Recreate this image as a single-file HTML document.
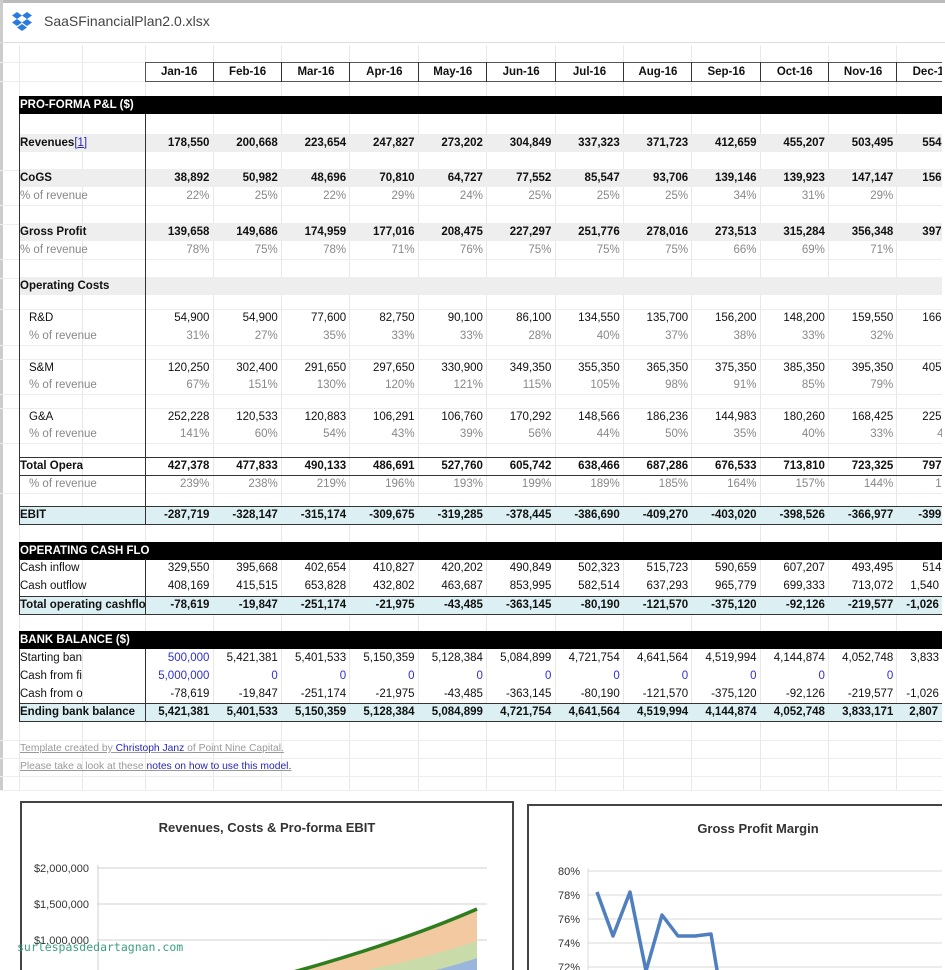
<!DOCTYPE html>
<html><head><meta charset="utf-8"><style>
*{margin:0;padding:0;box-sizing:border-box}
body{width:945px;height:970px;overflow:hidden;background:#fff;font-family:"Liberation Sans",Arial,sans-serif;position:relative;color:#111}
#clip{position:absolute;left:0;top:0;width:942px;height:970px;overflow:hidden}
.vl{position:absolute;top:45px;height:745px;width:1px;background:#e8e8e8}
.hl{position:absolute;left:0;width:945px;height:1px;background:#eeeeee}
.r{position:absolute;left:19px;width:1000px;height:18px;line-height:18px;display:flex;font-size:11.5px;white-space:nowrap}
.r .l{width:126px;overflow:hidden;padding-left:1px}
.r .c{width:68.4px;text-align:right;padding-right:4px;flex:none}
.r .c:last-child{text-align:left;padding-left:25px;padding-right:0}
.b{font-weight:bold}
.g{color:#888}
.ind .l{padding-left:10px}
.band{position:absolute;left:19px;width:926px;height:18px}
.bar{position:absolute;left:19px;width:926px;height:18px;background:#000;color:#fff;font-weight:bold;font-size:11.5px;line-height:18px;padding-left:1px}
.blk{position:absolute;background:#333}
.blue{color:#2f2fd0}
a{color:#2525c0}
</style></head><body>
<div style="position:absolute;left:0;top:0;width:945px;height:3px;background:#bbb"></div>
<div style="position:absolute;left:0;top:0;width:3px;height:970px;background:#ccc"></div>
<svg style="position:absolute;left:11px;top:12px" width="22" height="20" viewBox="0 0 22 20"><g fill="#2a7be0"><polygon points="6,0 11,3.5 6,7 1,3.5"/><polygon points="16,0 21,3.5 16,7 11,3.5"/><polygon points="6,7 11,10.5 6,14 1,10.5"/><polygon points="16,7 21,10.5 16,14 11,10.5"/><polygon points="11,12 16,15.5 11,19 6,15.5"/></g></svg>
<div style="position:absolute;left:44px;top:13px;font-size:14px;color:#444">SaaSFinancialPlan2.0.xlsx</div>
<div style="position:absolute;left:0;top:42px;width:945px;height:1px;background:#ddd"></div>
<div id="clip">
<div class="vl" style="left:19px"></div><div class="vl" style="left:82px"></div><div class="vl" style="left:145px"></div><div class="vl" style="left:213px"></div><div class="vl" style="left:281px"></div><div class="vl" style="left:349px"></div><div class="vl" style="left:418px"></div><div class="vl" style="left:486px"></div><div class="vl" style="left:555px"></div><div class="vl" style="left:623px"></div><div class="vl" style="left:691px"></div><div class="vl" style="left:760px"></div><div class="vl" style="left:828px"></div><div class="vl" style="left:896px"></div>
<div class="hl" style="top:62px"></div><div class="hl" style="top:81px"></div><div class="hl" style="top:170px"></div><div class="hl" style="top:205px"></div><div class="hl" style="top:224px"></div><div class="hl" style="top:259px"></div><div class="hl" style="top:278px"></div><div class="hl" style="top:309px"></div><div class="hl" style="top:345px"></div><div class="hl" style="top:359px"></div><div class="hl" style="top:394px"></div><div class="hl" style="top:408px"></div><div class="hl" style="top:443px"></div><div class="hl" style="top:493px"></div><div class="hl" style="top:740px"></div><div class="hl" style="top:758px"></div><div class="hl" style="top:776px"></div>

<div style="position:absolute;left:145px;top:62px;width:820px;height:20px;border:1px solid #555;background:#fff"></div>
<div class="r b" style="top:62px;height:20px;line-height:20px"><span class="l"></span>
<span class="c" style="text-align:center;padding:0">Jan-16</span><span class="c" style="text-align:center;padding:0">Feb-16</span><span class="c" style="text-align:center;padding:0">Mar-16</span><span class="c" style="text-align:center;padding:0">Apr-16</span><span class="c" style="text-align:center;padding:0">May-16</span><span class="c" style="text-align:center;padding:0">Jun-16</span><span class="c" style="text-align:center;padding:0">Jul-16</span><span class="c" style="text-align:center;padding:0">Aug-16</span><span class="c" style="text-align:center;padding:0">Sep-16</span><span class="c" style="text-align:center;padding:0">Oct-16</span><span class="c" style="text-align:center;padding:0">Nov-16</span><span class="c" style="text-align:center;padding:0">Dec-16</span></div>
<div class="blk" style="left:213px;top:62px;width:1px;height:20px"></div><div class="blk" style="left:281px;top:62px;width:1px;height:20px"></div><div class="blk" style="left:349px;top:62px;width:1px;height:20px"></div><div class="blk" style="left:418px;top:62px;width:1px;height:20px"></div><div class="blk" style="left:486px;top:62px;width:1px;height:20px"></div><div class="blk" style="left:555px;top:62px;width:1px;height:20px"></div><div class="blk" style="left:623px;top:62px;width:1px;height:20px"></div><div class="blk" style="left:691px;top:62px;width:1px;height:20px"></div><div class="blk" style="left:760px;top:62px;width:1px;height:20px"></div><div class="blk" style="left:828px;top:62px;width:1px;height:20px"></div><div class="blk" style="left:896px;top:62px;width:1px;height:20px"></div>

<div class="band" style="top:134px;background:#eeeeee"></div>
<div class="band" style="top:169px;background:#eeeeee"></div>
<div class="band" style="top:223px;background:#eeeeee"></div>
<div class="band" style="top:277px;background:#eeeeee"></div>
<div class="band" style="top:506px;background:#dcf0f4"></div>
<div class="band" style="top:596px;background:#dcf0f4"></div>
<div class="band" style="top:703px;background:#dcf0f4"></div>

<div class="bar" style="top:96px">PRO-FORMA P&amp;L ($)</div>
<div class="r b" style="top:134px"><span class="l">Revenues<a style="font-weight:normal;text-decoration:underline">[1]</a></span><span class="c">178,550</span><span class="c">200,668</span><span class="c">223,654</span><span class="c">247,827</span><span class="c">273,202</span><span class="c">304,849</span><span class="c">337,323</span><span class="c">371,723</span><span class="c">412,659</span><span class="c">455,207</span><span class="c">503,495</span><span class="c">554</span></div>
<div class="r b" style="top:169px"><span class="l">CoGS</span><span class="c">38,892</span><span class="c">50,982</span><span class="c">48,696</span><span class="c">70,810</span><span class="c">64,727</span><span class="c">77,552</span><span class="c">85,547</span><span class="c">93,706</span><span class="c">139,146</span><span class="c">139,923</span><span class="c">147,147</span><span class="c">156</span></div>
<div class="r g" style="top:187px"><span class="l">% of revenue</span><span class="c">22%</span><span class="c">25%</span><span class="c">22%</span><span class="c">29%</span><span class="c">24%</span><span class="c">25%</span><span class="c">25%</span><span class="c">25%</span><span class="c">34%</span><span class="c">31%</span><span class="c">29%</span><span class="c"></span></div>
<div class="r b" style="top:223px"><span class="l">Gross Profit</span><span class="c">139,658</span><span class="c">149,686</span><span class="c">174,959</span><span class="c">177,016</span><span class="c">208,475</span><span class="c">227,297</span><span class="c">251,776</span><span class="c">278,016</span><span class="c">273,513</span><span class="c">315,284</span><span class="c">356,348</span><span class="c">397</span></div>
<div class="r g" style="top:241px"><span class="l">% of revenue</span><span class="c">78%</span><span class="c">75%</span><span class="c">78%</span><span class="c">71%</span><span class="c">76%</span><span class="c">75%</span><span class="c">75%</span><span class="c">75%</span><span class="c">66%</span><span class="c">69%</span><span class="c">71%</span><span class="c"></span></div>
<div class="r b" style="top:277px"><span class="l">Operating Costs</span></div>
<div class="r ind" style="top:309px"><span class="l">R&amp;D</span><span class="c">54,900</span><span class="c">54,900</span><span class="c">77,600</span><span class="c">82,750</span><span class="c">90,100</span><span class="c">86,100</span><span class="c">134,550</span><span class="c">135,700</span><span class="c">156,200</span><span class="c">148,200</span><span class="c">159,550</span><span class="c">166</span></div>
<div class="r g ind" style="top:327px"><span class="l">% of revenue</span><span class="c">31%</span><span class="c">27%</span><span class="c">35%</span><span class="c">33%</span><span class="c">33%</span><span class="c">28%</span><span class="c">40%</span><span class="c">37%</span><span class="c">38%</span><span class="c">33%</span><span class="c">32%</span><span class="c"></span></div>
<div class="r ind" style="top:359px"><span class="l">S&amp;M</span><span class="c">120,250</span><span class="c">302,400</span><span class="c">291,650</span><span class="c">297,650</span><span class="c">330,900</span><span class="c">349,350</span><span class="c">355,350</span><span class="c">365,350</span><span class="c">375,350</span><span class="c">385,350</span><span class="c">395,350</span><span class="c">405</span></div>
<div class="r g ind" style="top:376px"><span class="l">% of revenue</span><span class="c">67%</span><span class="c">151%</span><span class="c">130%</span><span class="c">120%</span><span class="c">121%</span><span class="c">115%</span><span class="c">105%</span><span class="c">98%</span><span class="c">91%</span><span class="c">85%</span><span class="c">79%</span><span class="c"></span></div>
<div class="r ind" style="top:408px"><span class="l">G&amp;A</span><span class="c">252,228</span><span class="c">120,533</span><span class="c">120,883</span><span class="c">106,291</span><span class="c">106,760</span><span class="c">170,292</span><span class="c">148,566</span><span class="c">186,236</span><span class="c">144,983</span><span class="c">180,260</span><span class="c">168,425</span><span class="c">225</span></div>
<div class="r g ind" style="top:425px"><span class="l">% of revenue</span><span class="c">141%</span><span class="c">60%</span><span class="c">54%</span><span class="c">43%</span><span class="c">39%</span><span class="c">56%</span><span class="c">44%</span><span class="c">50%</span><span class="c">35%</span><span class="c">40%</span><span class="c">33%</span><span class="c" style="padding-left:40px">4</span></div>
<div class="r b" style="top:457px"><span class="l">Total Opera</span><span class="c">427,378</span><span class="c">477,833</span><span class="c">490,133</span><span class="c">486,691</span><span class="c">527,760</span><span class="c">605,742</span><span class="c">638,466</span><span class="c">687,286</span><span class="c">676,533</span><span class="c">713,810</span><span class="c">723,325</span><span class="c">797</span></div>
<div class="r g ind" style="top:475px"><span class="l">% of revenue</span><span class="c">239%</span><span class="c">238%</span><span class="c">219%</span><span class="c">196%</span><span class="c">193%</span><span class="c">199%</span><span class="c">189%</span><span class="c">185%</span><span class="c">164%</span><span class="c">157%</span><span class="c">144%</span><span class="c" style="padding-left:38px">1</span></div>
<div class="r b" style="top:506px"><span class="l">EBIT</span><span class="c">-287,719</span><span class="c">-328,147</span><span class="c">-315,174</span><span class="c">-309,675</span><span class="c">-319,285</span><span class="c">-378,445</span><span class="c">-386,690</span><span class="c">-409,270</span><span class="c">-403,020</span><span class="c">-398,526</span><span class="c">-366,977</span><span class="c" style="padding-left:21px">-399</span></div>
<div class="blk" style="left:19px;top:114px;width:1px;height:411px"></div>
<div class="blk" style="left:145px;top:114px;width:1px;height:411px"></div>
<div class="blk" style="left:19px;top:457px;width:926px;height:1px"></div>
<div class="blk" style="left:19px;top:475px;width:926px;height:1px"></div>
<div class="blk" style="left:19px;top:506px;width:926px;height:1px"></div>
<div class="blk" style="left:19px;top:524px;width:926px;height:1px"></div>

<div class="bar" style="top:542px">OPERATING CASH FLO</div>
<div class="r" style="top:559px"><span class="l">Cash inflow</span><span class="c">329,550</span><span class="c">395,668</span><span class="c">402,654</span><span class="c">410,827</span><span class="c">420,202</span><span class="c">490,849</span><span class="c">502,323</span><span class="c">515,723</span><span class="c">590,659</span><span class="c">607,207</span><span class="c">493,495</span><span class="c">514</span></div>
<div class="r" style="top:577px"><span class="l">Cash outflow</span><span class="c">408,169</span><span class="c">415,515</span><span class="c">653,828</span><span class="c">432,802</span><span class="c">463,687</span><span class="c">853,995</span><span class="c">582,514</span><span class="c">637,293</span><span class="c">965,779</span><span class="c">699,333</span><span class="c">713,072</span><span class="c" style="padding-left:13px">1,540</span></div>
<div class="r b" style="top:596px"><span class="l">Total operating cashflo</span><span class="c">-78,619</span><span class="c">-19,847</span><span class="c">-251,174</span><span class="c">-21,975</span><span class="c">-43,485</span><span class="c">-363,145</span><span class="c">-80,190</span><span class="c">-121,570</span><span class="c">-375,120</span><span class="c">-92,126</span><span class="c">-219,577</span><span class="c" style="padding-left:9px">-1,026</span></div>
<div class="blk" style="left:19px;top:559px;width:1px;height:55px"></div>
<div class="blk" style="left:145px;top:559px;width:1px;height:55px"></div>
<div class="blk" style="left:19px;top:596px;width:926px;height:1px"></div>
<div class="blk" style="left:19px;top:614px;width:926px;height:1px"></div>

<div class="bar" style="top:631px">BANK BALANCE ($)</div>
<div class="r" style="top:649px"><span class="l">Starting ban</span><span class="c blue">500,000</span><span class="c">5,421,381</span><span class="c">5,401,533</span><span class="c">5,150,359</span><span class="c">5,128,384</span><span class="c">5,084,899</span><span class="c">4,721,754</span><span class="c">4,641,564</span><span class="c">4,519,994</span><span class="c">4,144,874</span><span class="c">4,052,748</span><span class="c" style="padding-left:13px">3,833</span></div>
<div class="r" style="top:667px"><span class="l">Cash from fi</span><span class="c blue">5,000,000</span><span class="c blue">0</span><span class="c blue">0</span><span class="c blue">0</span><span class="c blue">0</span><span class="c blue">0</span><span class="c blue">0</span><span class="c blue">0</span><span class="c blue">0</span><span class="c blue">0</span><span class="c blue">0</span><span class="c blue"></span></div>
<div class="r" style="top:685px"><span class="l">Cash from o</span><span class="c">-78,619</span><span class="c">-19,847</span><span class="c">-251,174</span><span class="c">-21,975</span><span class="c">-43,485</span><span class="c">-363,145</span><span class="c">-80,190</span><span class="c">-121,570</span><span class="c">-375,120</span><span class="c">-92,126</span><span class="c">-219,577</span><span class="c" style="padding-left:9px">-1,026</span></div>
<div class="r b" style="top:703px"><span class="l">Ending bank balance</span><span class="c">5,421,381</span><span class="c">5,401,533</span><span class="c">5,150,359</span><span class="c">5,128,384</span><span class="c">5,084,899</span><span class="c">4,721,754</span><span class="c">4,641,564</span><span class="c">4,519,994</span><span class="c">4,144,874</span><span class="c">4,052,748</span><span class="c">3,833,171</span><span class="c" style="padding-left:12px">2,807</span></div>
<div class="blk" style="left:19px;top:649px;width:1px;height:73px"></div>
<div class="blk" style="left:145px;top:649px;width:1px;height:73px"></div>
<div class="blk" style="left:19px;top:703px;width:926px;height:1px"></div>
<div class="blk" style="left:19px;top:721px;width:926px;height:1px"></div>

<div style="position:absolute;left:20px;top:743px;font-size:10.3px;color:#999;text-decoration:underline">Template created by <a>Christoph Janz</a> of Point Nine Capital.</div>
<div style="position:absolute;left:20px;top:761px;font-size:10.3px;color:#999;text-decoration:underline">Please take a look at these <a>notes on how to use this model.</a></div>

<div style="position:absolute;left:0;top:790px;width:945px;height:180px;background:#fff"></div>
<div class="hl" style="top:790px"></div>
<div style="position:absolute;left:20px;top:801px;width:494px;height:180px;border:2px solid #444;background:#fff"></div>
<div style="position:absolute;left:20px;top:820px;width:494px;text-align:center;font-size:13px;font-weight:bold;color:#333">Revenues, Costs &amp; Pro-forma EBIT</div>
<svg style="position:absolute;left:22px;top:803px" width="490" height="170">
<g stroke="#d0d0d0" stroke-width="1"><line x1="75" y1="65" x2="465" y2="65"/><line x1="75" y1="101" x2="465" y2="101"/><line x1="75" y1="137" x2="465" y2="137"/><line x1="76" y1="62" x2="76" y2="170"/></g>
<g font-family="Liberation Sans,sans-serif" font-size="11" fill="#333" text-anchor="end"><text x="67" y="69">$2,000,000</text><text x="67" y="105">$1,500,000</text><text x="67" y="141">$1,000,000</text></g>
<path d="M260,170 C340,150 400,130 455,106 L455,170 Z" fill="#f2c9a0"/>
<path d="M330,170 C380,160 420,150 455,138 L455,170 Z" fill="#c9dba8"/>
<path d="M400,170 C420,166 440,160 455,155 L455,170 Z" fill="#9bb6dc"/>
<path d="M268,170 C340,150 400,130 455,106" fill="none" stroke="#2e7d1e" stroke-width="3.5"/>
</svg>
<div style="position:absolute;left:527px;top:804px;width:430px;height:180px;border:2px solid #444;background:#fff"></div>
<div style="position:absolute;left:638px;top:821px;width:240px;text-align:center;font-size:13px;font-weight:bold;color:#333">Gross Profit Margin</div>
<svg style="position:absolute;left:529px;top:806px" width="416" height="164">
<g stroke="#d8d8d8" stroke-width="1"><line x1="59" y1="65" x2="416" y2="65"/><line x1="59" y1="89" x2="416" y2="89"/><line x1="59" y1="113" x2="416" y2="113"/><line x1="59" y1="137" x2="416" y2="137"/><line x1="59" y1="161" x2="416" y2="161"/><line x1="59" y1="62" x2="59" y2="164"/></g>
<g font-family="Liberation Sans,sans-serif" font-size="11" fill="#333" text-anchor="end"><text x="51" y="69">80%</text><text x="51" y="93">78%</text><text x="51" y="117">76%</text><text x="51" y="141">74%</text><text x="51" y="165">72%</text></g>
<polyline points="68,86 84,130 101,86 117,165 133,109 149,130 166,130 182,128 189,170" fill="none" stroke="#4f7fbf" stroke-width="3.5" stroke-linejoin="round"/>
</svg>
<div style="position:absolute;left:17px;top:940px;font-family:'DejaVu Sans Mono',monospace;font-size:11.5px;color:#3aa07e">surlespasdedartagnan.com</div>
</div>
</body></html>
